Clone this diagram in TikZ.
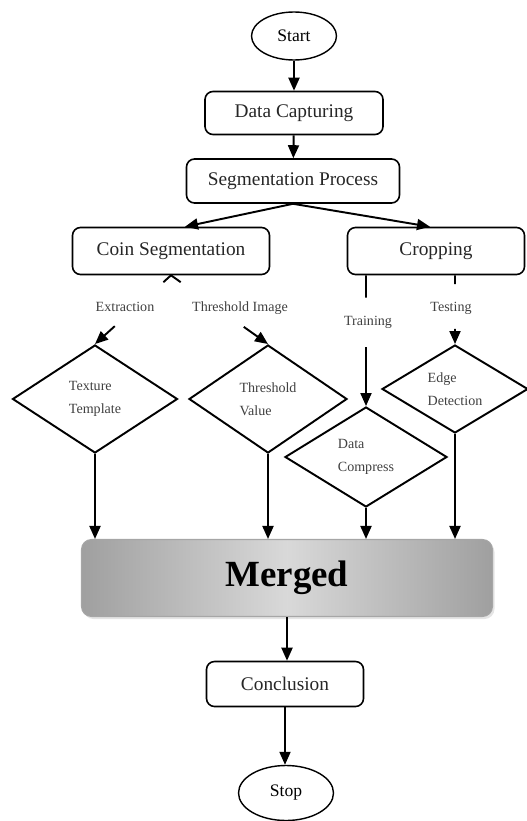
\documentclass[tikz,border=0pt]{standalone}
\usepackage{fontspec}
\setmainfont{Liberation Serif}
\usepackage{tikz}
\usetikzlibrary{shapes.geometric, arrows.meta, positioning, shadows, calc}
\tikzset{
  terminal/.style={ellipse, draw, line width=0.8pt, inner sep=0pt, font=\fontsize{10}{12}\selectfont}, % Start and stop
  process/.style={rectangle, rounded corners=1.6mm, draw, line width=0.9pt, inner sep=0pt, font=\fontsize{11}{13}\selectfont, text=black!85},
  decision/.style={diamond, draw, line width=1.1pt, inner sep=0pt, align=left, font=\fontsize{8}{13}\selectfont, text=black!75},
  merge/.style={rectangle, rounded corners=2mm, draw=gray!70, line width=0.6pt, left color=gray!75, right color=gray!75, middle color=gray!30, drop shadow={shadow xshift=0.4mm, shadow yshift=-0.5mm, fill=gray!40}, font=\fontsize{21}{24}\selectfont\bfseries},
  tag/.style={font=\fontsize{8}{10}\selectfont, text=black!75},
  path/.style={line width=1.1pt}
}

\begin{document}
\begin{tikzpicture}[x=0.2mm, y=-0.2mm, >={Triangle[length=2.6mm, width=2.2mm]}]
    \useasboundingbox (0,0) rectangle (526,821);

    % Nodes
    \node [terminal, minimum width=17mm, minimum height=9.6mm] (start) at (294,36) {Start};
    \node [process, minimum width=35.6mm, minimum height=8.6mm] (capture) at (294,113) {Data Capturing};
    \node [process, minimum width=42.6mm, minimum height=8.8mm] (segproc) at (293,181) {Segmentation Process};
    \node [process, minimum width=39.4mm, minimum height=9.4mm] (coinseg) at (171,251) {Coin Segmentation};
    \node [process, minimum width=35.4mm, minimum height=9.4mm] (cropping) at (436,251) {Cropping};

    \node [decision, minimum width=33mm, minimum height=21.6mm] (texture) at (95,399) {Texture\\Template};
    \node [decision, minimum width=31.6mm, minimum height=21.6mm] (thresh) at (268,399) {Threshold\\Value};
    \node [decision, minimum width=32.4mm, minimum height=20mm] (compress) at (366,457) {Data\\Compress};
    \node [decision, minimum width=29.2mm, minimum height=17.6mm] (edge) at (455,389) {Edge\\Detection};

    \node [tag] (extraction) at (125,307) {Extraction};
    \node [tag] (threshimg) at (240,308) {Threshold Image};
    \node [tag] (training) at (368,322) {Training};
    \node [tag] (testing) at (451,308) {Testing};

    \node [merge, minimum width=82.2mm, minimum height=15.4mm] (merged) at (287,578) {Merged};
    \node [process, minimum width=31.4mm, minimum height=9mm] (concl) at (285,684) {Conclusion};
    \node [terminal, minimum width=19mm, minimum height=11mm] (stop) at (286,793) {Stop};

    % Edges
    \draw[path, ->] (start) -- (capture);
    \draw[path, ->] (capture) -- (segproc);
    \draw[path, ->] (segproc.south) -- ([xshift=2.8mm]coinseg.north);
    \draw[path, ->] (segproc.south) -- ([xshift=-1.2mm]cropping.north);

    % broken lines behind the labels
    \draw[path] (coinseg.south) -- ($(coinseg.south)!0.1!(texture.north)$);
    \draw[path, ->] ($(coinseg.south)!0.74!(texture.north)$) -- (texture.north);
    \draw[path] (coinseg.south) -- ($(coinseg.south)!0.1!(thresh.north)$);
    \draw[path, ->] ($(coinseg.south)!0.75!(thresh.north)$) -- (thresh.north);
    \draw[path] (compress.north |- cropping.south) -- ($(compress.north |- cropping.south)!0.17!(compress.north)$);
    \draw[path, ->] ($(compress.north |- cropping.south)!0.55!(compress.north)$) -- (compress.north);
    \draw[path] (edge.north |- cropping.south) -- ($(edge.north |- cropping.south)!0.13!(edge.north)$);
    \draw[path, ->] ($(edge.north |- cropping.south)!0.78!(edge.north)$) -- (edge.north);

    \draw[path, ->] (texture.south) -- (texture.south |- merged.north);
    \draw[path, ->] (thresh.south) -- (thresh.south |- merged.north);
    \draw[path, ->] (compress.south) -- (compress.south |- merged.north);
    \draw[path, ->] (edge.south) -- (edge.south |- merged.north);

    \draw[path, ->] (merged.south) -- (merged.south |- concl.north);
    \draw[path, ->] (concl.south) -- (concl.south |- stop.north);

\end{tikzpicture}
\end{document}
